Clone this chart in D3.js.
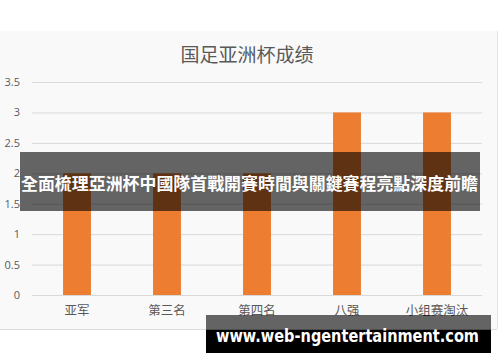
<!DOCTYPE html>
<html>
<head>
<meta charset="utf-8">
<script src="https://cdn.jsdelivr.net/npm/d3@7/dist/d3.min.js"></script>
<style>
html,body{margin:0;padding:0;background:#fff;}
svg{display:block;}
</style>
</head>
<body>
<svg id="chart" width="500" height="362"></svg>
<script>
const title = "国足亚洲杯成绩";
const categories = ["亚军", "第三名", "第四名", "八强", "小组赛淘汰"];
const values = [2, 2, 2, 3, 3];
const yTicks = [0, 0.5, 1, 1.5, 2, 2.5, 3, 3.5];
const bannerText = "全面梳理亞洲杯中國隊首戰開賽時間與關鍵賽程亮點深度前瞻";
const footerText = "www.web-ngentertainment.com";

const svg = d3.select("#chart");
const textColor = "#595959";
const cjk = "'Noto Sans CJK SC','Noto Sans',sans-serif";

// panel
svg.append("rect").attr("x", 0).attr("y", 31).attr("width", 497).attr("height", 298)
  .attr("fill", "#f9f9f9");
svg.append("line").attr("x1", 0).attr("x2", 497).attr("y1", 329.5).attr("y2", 329.5)
  .attr("stroke", "#dcdcdc");
svg.append("line").attr("x1", 497.5).attr("x2", 497.5).attr("y1", 31).attr("y2", 329)
  .attr("stroke", "#e6e6e6");

const x = d3.scaleBand().domain(categories).range([32, 482]).paddingInner(0.69).paddingOuter(0.345);
const y = d3.scaleLinear().domain([0, 3.5]).range([295, 82]);

// title
svg.append("text").attr("x", 247).attr("y", 53).attr("text-anchor", "middle")
  .attr("dominant-baseline", "central")
  .attr("font-family", cjk).attr("font-size", 19).attr("fill", textColor).text(title);

// gridlines
const yAxis = d3.axisLeft(y).tickValues(yTicks).tickSize(-450).tickPadding(12)
  .tickFormat(d => String(d));
const gy = svg.append("g").attr("transform", "translate(32,0)").call(yAxis);
gy.select(".domain").remove();
gy.selectAll(".tick line").attr("stroke", "#d9d9d9").attr("stroke-width", 1);
gy.selectAll(".tick text").attr("fill", textColor).attr("font-size", 11)
  .attr("font-family", "'Open Sans','Noto Sans',sans-serif");

// bars
svg.append("g").selectAll("rect").data(values).join("rect")
  .attr("x", (d, i) => x(categories[i]))
  .attr("width", x.bandwidth())
  .attr("y", d => y(d))
  .attr("height", d => y(0) - y(d))
  .attr("fill", "#ED7D31");

// x axis labels
const xAxis = d3.axisBottom(x).tickSize(0).tickPadding(11);
const gx = svg.append("g").attr("transform", "translate(0,295)").call(xAxis);
gx.select(".domain").remove();
gx.selectAll(".tick text").attr("fill", textColor).attr("font-size", 12.5)
  .attr("font-family", cjk);

// banner overlay
svg.append("rect").attr("x", 20).attr("y", 152).attr("width", 460).attr("height", 59)
  .attr("fill", "rgba(0,0,0,0.6)");
svg.append("text").attr("x", 249.5).attr("y", 182).attr("text-anchor", "middle")
  .attr("dominant-baseline", "central")
  .attr("font-family", "'Noto Sans CJK TC','Noto Sans CJK SC',sans-serif")
  .attr("font-weight", "bold").attr("font-size", 17).attr("fill", "#fff")
  .attr("textLength", 457).attr("lengthAdjust", "spacingAndGlyphs")
  .text(bannerText);

// footer watermark
svg.append("rect").attr("x", 206).attr("y", 315).attr("width", 285).attr("height", 14.5)
  .attr("fill", "rgba(0,0,0,0.6)");
svg.append("rect").attr("x", 206).attr("y", 329.5).attr("width", 285).attr("height", 23.5)
  .attr("fill", "#000");
svg.append("text").attr("x", 216).attr("y", 342)
  .attr("font-family", "'DejaVu Sans',sans-serif").attr("font-weight", "bold")
  .attr("font-size", 17).attr("fill", "#fff")
  .attr("textLength", 263).attr("lengthAdjust", "spacingAndGlyphs")
  .text(footerText);
</script>
</body>
</html>
